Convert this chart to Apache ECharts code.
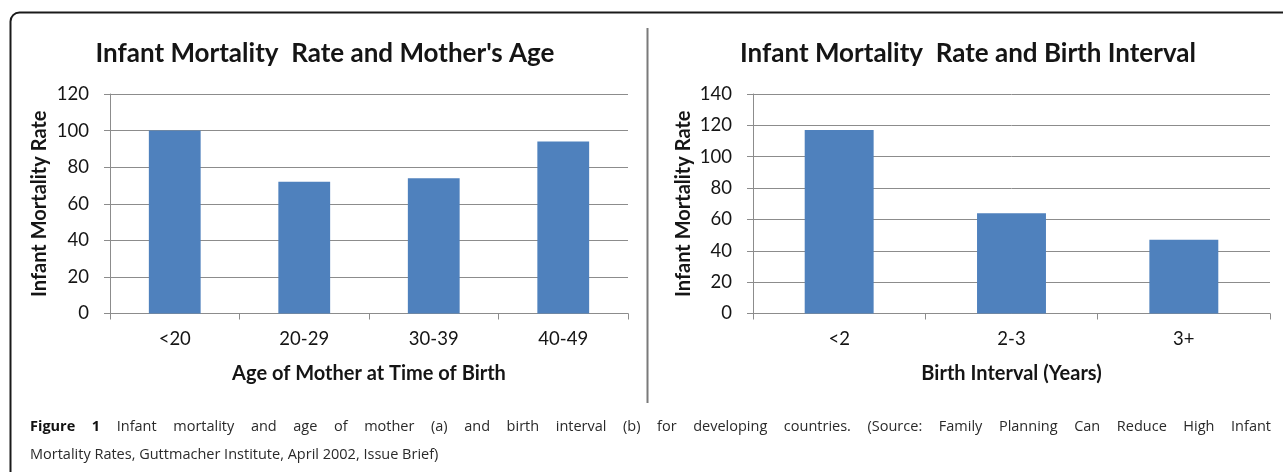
<!DOCTYPE html>
<html>
<head>
<meta charset="utf-8">
<script src="https://cdn.jsdelivr.net/npm/echarts@6/dist/echarts.min.js"></script>
<style>
  html, body { margin: 0; padding: 0; background: #ffffff; }
  #chart { width: 1283px; height: 472px; }
</style>
</head>
<body>
<div id="chart"></div>
<script>
// Panel (a): infant mortality by age of mother
const ageCategories = ['<20', '20-29', '30-39', '40-49'];
const ageRates = [100, 72, 74, 94];
const ageAxisMax = 120;

// Panel (b): infant mortality by birth interval
const intervalCategories = ['<2', '2-3', '3+'];
const intervalRates = [117, 64, 47];
const intervalAxisMax = 140;

const axisStep = 20;

const titleA = "Infant Mortality  Rate and Mother's Age";
const titleB = 'Infant Mortality  Rate and Birth Interval';
const xNameA = 'Age of Mother at Time of Birth';
const xNameB = 'Birth Interval (Years)';
const yName = 'Infant Mortality Rate';

const captionLead = 'Figure 1';
const captionLine1 = 'Infant mortality and age of mother (a) and birth interval (b) for developing countries. (Source: Family Planning Can Reduce High Infant';
const captionLine2 = 'Mortality Rates, Guttmacher Institute, April 2002, Issue Brief)';

const FONT = 'Lato';
const CAP_FONT = 'Open Sans';
const BAR = '#4F81BD';
const GRID = '#8c8c8c';
const INK = '#151515';

const chart = echarts.init(document.getElementById('chart'), null, { renderer: 'canvas' });

function yAxis(gridIndex, max, gapToName) {
  return {
    type: 'value', gridIndex, min: 0, max, interval: axisStep,
    name: yName, nameLocation: 'middle', nameGap: gapToName, nameRotate: 90,
    nameTextStyle: { fontFamily: FONT, fontWeight: 'bold', fontSize: 20, color: INK },
    axisLine: { show: true, lineStyle: { color: GRID, width: 1 } },
    axisTick: { show: true, length: 6, lineStyle: { color: GRID } },
    axisLabel: { margin: 21, fontFamily: FONT, fontSize: 18.5, color: INK },
    splitLine: { show: true, lineStyle: { color: GRID, width: 1 } }
  };
}

function xAxis(gridIndex, data, name) {
  return {
    type: 'category', gridIndex, data,
    name, nameLocation: 'middle', nameGap: 50,
    nameTextStyle: { fontFamily: FONT, fontWeight: 'bold', fontSize: 20, color: INK },
    axisLine: { show: true, lineStyle: { color: GRID, width: 1 } },
    axisTick: { show: true, length: 6, alignWithLabel: false, lineStyle: { color: GRID } },
    axisLabel: { margin: 16, fontFamily: FONT, fontSize: 18.5, color: INK }
  };
}

// Justified caption: first line spread edge to edge, second line left-aligned
const measureCtx = document.createElement('canvas').getContext('2d');
function textWidth(str, weight, size) {
  measureCtx.font = weight + ' ' + size + 'px "' + CAP_FONT + '"';
  return measureCtx.measureText(str).width;
}
const CAP_SIZE = 14.5;
const capLeft = 30, capRight = 1271, capY1 = 430, capY2 = 458;
const words = [];
captionLead.split(' ').forEach(w => words.push({ w, bold: true }));
captionLine1.split(' ').forEach(w => words.push({ w, bold: false }));
const widths = words.map(o => textWidth(o.w, o.bold ? 'bold' : 'normal', CAP_SIZE));
const used = widths.reduce((a, b) => a + b, 0);
const gap = (capRight - capLeft - used) / (words.length - 1);
const captionItems = [];
let cx = capLeft;
words.forEach((o, i) => {
  captionItems.push({
    type: 'text', left: cx, top: capY1 - CAP_SIZE * 0.7,
    style: { text: o.w, font: (o.bold ? 'bold ' : '') + CAP_SIZE + 'px "' + CAP_FONT + '"', fill: o.bold ? '#111' : '#2a2a2a' }
  });
  cx += widths[i] + gap;
});
captionItems.push({
  type: 'text', left: capLeft, top: capY2 - CAP_SIZE * 0.7,
  style: { text: captionLine2, font: CAP_SIZE + 'px "' + CAP_FONT + '"', fill: '#2a2a2a' }
});

const option = {
  backgroundColor: '#ffffff',
  animation: false,
  grid: [
    { left: 110, right: 1283 - 628, top: 94, bottom: 472 - 313.5 },
    { left: 753, right: 1283 - 1270, top: 94, bottom: 472 - 313.5 }
  ],
  xAxis: [xAxis(0, ageCategories, xNameA), xAxis(1, intervalCategories, xNameB)],
  yAxis: [yAxis(0, ageAxisMax, 60), yAxis(1, intervalAxisMax, 59)],
  series: [
    { type: 'bar', xAxisIndex: 0, yAxisIndex: 0, data: ageRates, barCategoryGap: '60%', itemStyle: { color: BAR } },
    { type: 'bar', xAxisIndex: 1, yAxisIndex: 1, data: intervalRates, barCategoryGap: '60%', itemStyle: { color: BAR } }
  ],
  graphic: [
    // outer frame: rounded top-left corner, open on the right and bottom
    { type: 'rect', shape: { x: 10.5, y: 12.5, width: 1400, height: 600, r: [9, 0, 0, 0] },
      style: { fill: 'none', stroke: '#1a1a1a', lineWidth: 2 }, silent: true },
    // divider between the two panels
    { type: 'line', shape: { x1: 647.5, y1: 28, x2: 647.5, y2: 403 },
      style: { stroke: '#7a7a7a', lineWidth: 2 }, silent: true },
    { type: 'text', x: 325, y: 54,
      style: { text: titleA, font: 'bold 26px "' + FONT + '"', fill: INK, textAlign: 'center', textVerticalAlign: 'middle' } },
    { type: 'text', x: 968, y: 54,
      style: { text: titleB, font: 'bold 26px "' + FONT + '"', fill: INK, textAlign: 'center', textVerticalAlign: 'middle' } }
  ].concat(captionItems)
};

chart.setOption(option);
</script>
</body>
</html>
